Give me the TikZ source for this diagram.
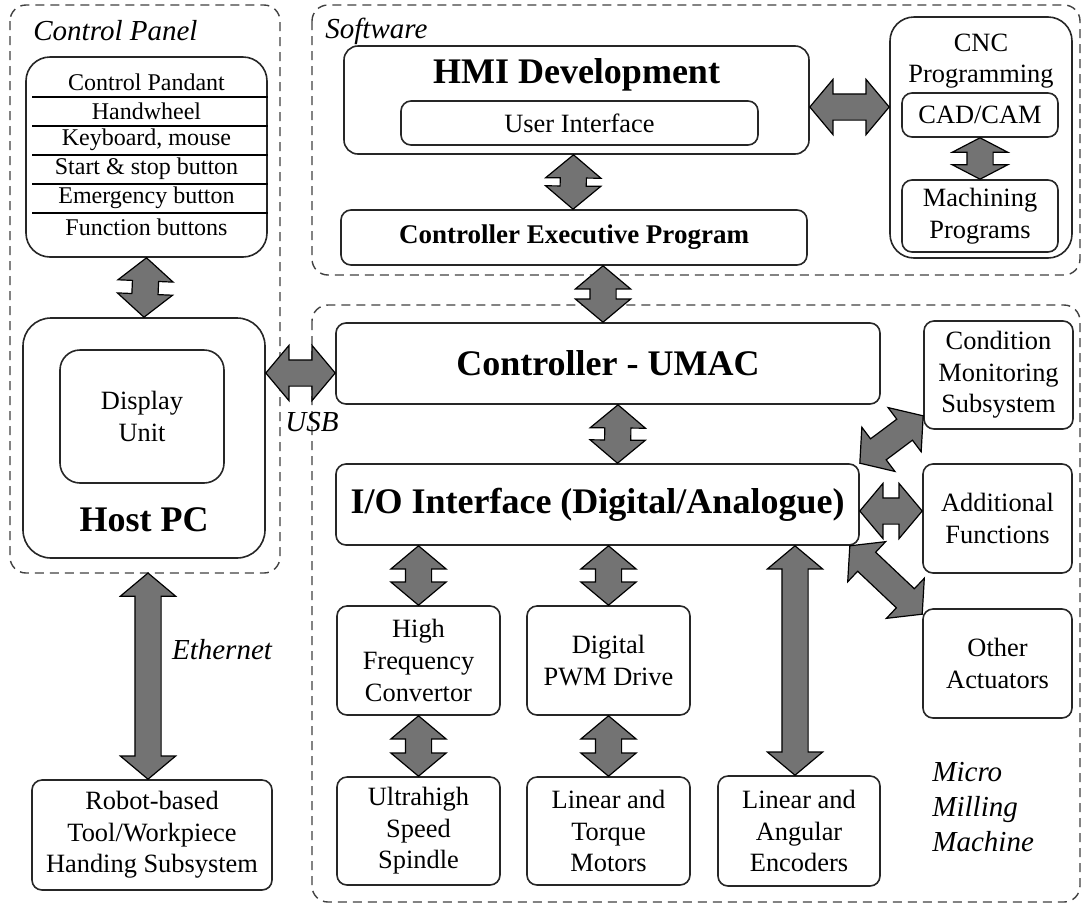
\documentclass[tikz,border=0pt]{standalone}
\usepackage{fontspec}
\setmainfont{Liberation Serif}
\usetikzlibrary{shapes.arrows,positioning,calc}

\tikzset{
  box/.style={draw=black!85, line width=0.8pt, rounded corners=5pt, align=center,
    inner sep=0pt, font=\fontsize{13.2}{15.8}\selectfont},
  bigbox/.style={box, rounded corners=12pt},
  group/.style={draw=black!75, line width=0.7pt, dash pattern=on 4.5pt off 3pt, rounded corners=8pt},
  grouplabel/.style={font=\fontsize{14.5}{17.5}\selectfont\itshape, align=left, inner sep=0pt},
  title/.style={font=\fontsize{18}{21}\selectfont\bfseries, inner sep=0pt},
  item/.style={font=\fontsize{12}{14}\selectfont, inner sep=0pt},
  fatarrow/.style={double arrow, draw=black, line width=0.6pt, fill=black!55,
    inner xsep=0pt, inner ysep=6.25pt, minimum width=0pt,
    double arrow head extend=7.25pt, double arrow tip angle=100, double arrow head indent=0pt},
}
% fat two-headed arrow between two points
\newcommand{\biarrow}[3][]{%
  \path let \p1=(#2), \p2=(#3), \n1={atan2(\y2-\y1,\x2-\x1)}, \n2={veclen(\x2-\x1,\y2-\y1)} in
    node[fatarrow, minimum height=\n2, rotate=\n1, #1] at ($(\p1)!.5!(\p2)$) {};}

\begin{document}
\begin{tikzpicture}[x=0.5pt, y=-0.5pt, node distance=95pt]
  \useasboundingbox (0,0) rectangle (1081,906);

  % dashed groups
  \draw[group] (10,5) rectangle (280,573);
  \draw[group] (312,5) rectangle (1080,275);
  \draw[group] (312,305) rectangle (1080,902);
  \node[grouplabel, anchor=west] (lcp) at (33,31) {Control Panel};
  \node[grouplabel, anchor=west] (lsw) at (325,31) {Software};
  \node[grouplabel, anchor=north west] (lmm) at (932,762) {Micro\\Milling\\Machine};

  % control panel
  \node[bigbox, minimum width=120.5pt, minimum height=100pt] (cpl) at (146.5,157) {};
  \foreach \t [count=\i] in {Control Pandant, Handwheel, {Keyboard, mouse}, Start \& stop button, Emergency button, Function buttons}
    \node[item] (it\i) at (146.5,53+29*\i) {\t};
  \foreach \i in {1,...,5}
    \draw[line width=1.1pt] (32,68+29*\i) -- (cpl.east |- 0,68+29*\i);

  \node[bigbox, rounded corners=14pt, minimum width=121pt, minimum height=120pt] (host) at (144,438) {};
  \node[box, rounded corners=10pt, minimum width=82pt, minimum height=66.5pt] (disp) at (142,416.5) {Display\\Unit};
  \node[title] (lhost) at (144,520) {Host PC};

  \node[box, minimum width=120pt, minimum height=55pt] (robot) at (152,835) {Robot-based\\Tool/Workpiece\\Handing Subsystem};

  % software
  \node[box, rounded corners=7pt, minimum width=232.5pt, minimum height=54pt] (hmi) at (576.5,100) {};
  \node[title] (lhmi) at (576.5,75) {HMI Development};
  \node[box, minimum width=178.5pt, minimum height=22pt] (ui) at (579.5,123) {User Interface};
  \node[box, minimum width=233pt, minimum height=27.5pt, font=\fontsize{13.5}{16}\selectfont\bfseries] (ce) at (574,237.5) {Controller Executive Program};

  \node[bigbox, minimum width=91pt, minimum height=120.5pt] (cnc) at (981,137.5) {};
  \node[box, draw=none] (lcnc) at (981,61) {CNC\\Programming};
  \node[box, minimum width=78pt, minimum height=22pt] (cad) at (980,115) {CAD/CAM};
  \node[box, minimum width=78pt, minimum height=36pt] (mach) at (980,216) {Machining\\Programs};

  % micro milling machine
  \node[box, minimum width=272pt, minimum height=40.5pt, font=\fontsize{18}{21}\selectfont\bfseries] (umac) at (608,363.5) {Controller - UMAC};
  \node[box, minimum width=261.5pt, minimum height=40.5pt, font=\fontsize{18}{21}\selectfont\bfseries] (io) at (597.5,504.5) {I/O Interface (Digital/Analogue)};

  \node[box, minimum width=74.5pt, minimum height=54pt] (cond) at (998.5,375) {Condition\\Monitoring\\Subsystem};
  \node[box, minimum width=74.5pt, minimum height=54.5pt] (addf) at (997.5,518.5) {Additional\\Functions};
  \node[box, minimum width=74.5pt, minimum height=54.5pt] (oth) at (997.5,663.5) {Other\\Actuators};

  \node[box, minimum width=81.5pt, minimum height=54.5pt] (hfc) at (418.5,660.5) {High\\Frequency\\Convertor};
  \node[box, minimum width=81.5pt, minimum height=54.5pt, right of=hfc] (pwm) {Digital\\PWM Drive};
  \node[box, minimum width=81.5pt, minimum height=54pt, below of=hfc, node distance=85.25pt] (spin) {Ultrahigh\\Speed\\Spindle};
  \node[box, minimum width=81.5pt, minimum height=54pt, below of=pwm, node distance=85.25pt] (mot) {Linear and\\Torque\\Motors};
  \node[box, minimum width=81pt, minimum height=55pt, right of=mot, node distance=95.25pt] (enc) {Linear and\\Angular\\Encoders};

  % links
  \coordinate (usbpt) at (300,373);
  \coordinate (cpbot) at (148,573);
  \coordinate (cncpt) at (850,107);
  \coordinate (encpt) at (795,700);
  \biarrow{cpl.south}{host.north}
  \biarrow{host.east |- usbpt}{umac.west |- usbpt}
  \node[grouplabel] (lusb) at (312,422) {USB};
  \biarrow{cpbot}{cpbot |- robot.north}
  \node[grouplabel] (leth) at (222,650) {Ethernet};

  \biarrow{hmi.east |- cncpt}{cnc.west |- cncpt}
  \biarrow[double arrow tip angle=125]{cad.south}{mach.north}
  \biarrow{[xshift=-1.5pt]hmi.south}{[xshift=-0.5pt]ce.north}
  \biarrow{[xshift=14.5pt]ce.south}{[xshift=-2.5pt]umac.north}
  \biarrow{[xshift=5pt]umac.south}{[xshift=10pt]io.north}

  \biarrow{io.north east}{[yshift=7pt]cond.south west}
  \biarrow{[yshift=-3.25pt]io.east}{[yshift=3.75pt]addf.west}
  \biarrow{[xshift=-5pt]io.south east}{[yshift=-3pt]oth.north west}

  \biarrow{io.south -| hfc.north}{hfc.north}
  \biarrow{io.south -| pwm.north}{pwm.north}
  \biarrow{hfc.south}{spin.north}
  \biarrow{pwm.south}{mot.north}
  \biarrow{io.south -| encpt}{encpt |- enc.north}
\end{tikzpicture}
\end{document}
